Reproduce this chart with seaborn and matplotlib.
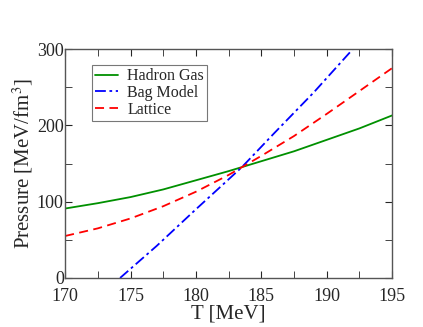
import numpy as np
import pandas as pd
import matplotlib
matplotlib.use("Agg")
import matplotlib.pyplot as plt
import seaborn as sns
from matplotlib.ticker import MultipleLocator

# =========================
# DATA
# =========================

t_hadron = [170, 172.5, 175, 177.5, 180, 182.5, 185, 187.5, 190, 192.5, 195]
p_hadron = [91, 98, 106, 116, 128, 140, 153, 166, 181, 196, 213]

t_bag = [174.2, 177, 180, 183.5, 186, 189, 192]
p_bag = [0, 42, 90, 145, 190, 243, 300]

t_lattice = [170, 172.5, 175, 177.5, 180, 182.5, 185, 187.5, 190, 192.5, 195]
p_lattice = [55, 65, 78, 94, 113, 135, 160, 186, 215, 245, 275]

df = pd.concat([
    pd.DataFrame({"T": t_hadron, "P": p_hadron, "model": "Hadron Gas"}),
    pd.DataFrame({"T": t_bag, "P": p_bag, "model": "Bag Model"}),
    pd.DataFrame({"T": t_lattice, "P": p_lattice, "model": "Lattice"}),
])

# =========================
# PLOT
# =========================

sns.set_style("ticks")
plt.rcParams["font.family"] = ["Liberation Serif", "DejaVu Serif"]
plt.rcParams["mathtext.fontset"] = "stix"

fig, ax = plt.subplots(figsize=(4.23, 3.27), dpi=100)
fig.subplots_adjust(left=0.154, right=0.927, top=0.850, bottom=0.150)

palette = {"Hadron Gas": "#009000", "Bag Model": "#0000ff", "Lattice": "#ff0000"}
dashes = {"Hadron Gas": "", "Bag Model": (6, 2, 1.5, 2), "Lattice": (5, 3)}

sns.lineplot(
    data=df, x="T", y="P", hue="model", style="model",
    palette=palette, dashes=dashes, linewidth=1.3, ax=ax,
    sort=False, estimator=None
)

ax.set_xlim(170, 195)
ax.set_ylim(0, 300)
ax.xaxis.set_major_locator(MultipleLocator(5))
ax.xaxis.set_minor_locator(MultipleLocator(2.5))
ax.yaxis.set_major_locator(MultipleLocator(100))
ax.yaxis.set_minor_locator(MultipleLocator(50))
ax.tick_params(which="both", direction="in", top=True, right=True, labelsize=13)
ax.tick_params(axis="x", which="both", pad=7)
ax.tick_params(axis="y", which="both", pad=1)
ax.tick_params(which="major", length=5)
ax.tick_params(which="minor", length=5)
for s in ax.spines.values():
    s.set_color("#555555")
    s.set_linewidth(1)

ax.set_xlabel("T [MeV]", fontsize=15, labelpad=0)
ax.set_ylabel("Pressure [MeV/fm$^3$]", fontsize=15, labelpad=1)

leg = ax.legend(loc="upper left", bbox_to_anchor=(0.083, 0.93), fontsize=11.5,
                frameon=True, fancybox=False, edgecolor="#555555",
                handlelength=1.4, borderpad=0.2, labelspacing=0.05,
                handletextpad=0.6, borderaxespad=0)
leg.get_frame().set_linewidth(0.8)

plt.savefig("out.png", dpi=100)
